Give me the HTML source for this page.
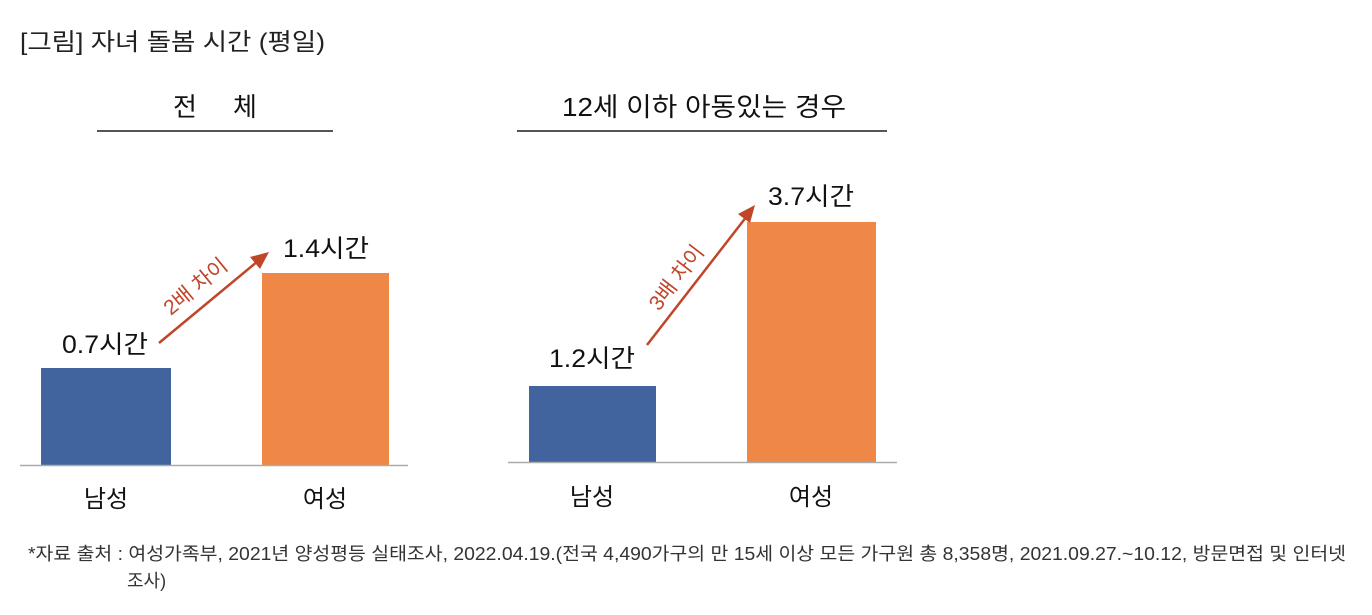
<!DOCTYPE html>
<html><head><meta charset="utf-8"><style>
body{margin:0;background:#fff;}
svg text{font-family:"Liberation Sans","Noto Sans CJK KR",sans-serif;}
</style></head><body>
<svg width="1372" height="610" xmlns="http://www.w3.org/2000/svg">
<text x="20" y="50" font-size="24" fill="#222" textLength="305" lengthAdjust="spacingAndGlyphs">[그림] 자녀 돌봄 시간 (평일)</text>
<text x="215" y="116" font-size="26" fill="#111" text-anchor="middle" xml:space="preserve">전     체</text>
<line x1="97" y1="131" x2="333" y2="131" stroke="#555" stroke-width="2"/>
<text x="562" y="116" font-size="26" fill="#111" textLength="284" lengthAdjust="spacingAndGlyphs">12세 이하 아동있는 경우</text>
<line x1="517" y1="131" x2="887" y2="131" stroke="#555" stroke-width="2"/>
<!-- left chart -->
<rect x="41" y="368" width="130" height="97" fill="#41649f"/>
<rect x="262" y="273" width="127" height="192" fill="#ef8747"/>
<line x1="20" y1="465.5" x2="408" y2="465.5" stroke="#aaa" stroke-width="1.5"/>
<text x="62" y="353" font-size="25" fill="#111" textLength="86" lengthAdjust="spacingAndGlyphs">0.7시간</text>
<text x="283" y="257" font-size="25" fill="#111" textLength="86" lengthAdjust="spacingAndGlyphs">1.4시간</text>
<text x="106" y="507" font-size="24" fill="#111" text-anchor="middle">남성</text>
<text x="325" y="507" font-size="24" fill="#111" text-anchor="middle">여성</text>
<line x1="159" y1="343" x2="258" y2="261" stroke="#c0462a" stroke-width="2.5"/>
<polygon points="269,252 250,257 260,269" fill="#c0462a"/>
<text transform="translate(200,292) rotate(-39.5)" font-size="21" fill="#c0462a" text-anchor="middle">2배 차이</text>
<!-- right chart -->
<rect x="529" y="386" width="127" height="76" fill="#41649f"/>
<rect x="747" y="222" width="129" height="240" fill="#ef8747"/>
<line x1="508" y1="462.5" x2="897" y2="462.5" stroke="#aaa" stroke-width="1.5"/>
<text x="549" y="367" font-size="25" fill="#111" textLength="86" lengthAdjust="spacingAndGlyphs">1.2시간</text>
<text x="768" y="205" font-size="25" fill="#111" textLength="86" lengthAdjust="spacingAndGlyphs">3.7시간</text>
<text x="592" y="505" font-size="24" fill="#111" text-anchor="middle">남성</text>
<text x="811" y="505" font-size="24" fill="#111" text-anchor="middle">여성</text>
<line x1="647" y1="345" x2="747" y2="216" stroke="#c0462a" stroke-width="2.5"/>
<polygon points="755,205 738,214 750,223" fill="#c0462a"/>
<text transform="translate(682,282) rotate(-52.4)" font-size="21" fill="#c0462a" text-anchor="middle">3배 차이</text>
<text x="28" y="560" font-size="18" fill="#333" textLength="1318" lengthAdjust="spacingAndGlyphs">*자료 출처 : 여성가족부, 2021년 양성평등 실태조사, 2022.04.19.(전국 4,490가구의 만 15세 이상 모든 가구원 총 8,358명, 2021.09.27.~10.12, 방문면접 및 인터넷</text>
<text x="127" y="587" font-size="18" fill="#333">조사)</text>
</svg>
</body></html>
